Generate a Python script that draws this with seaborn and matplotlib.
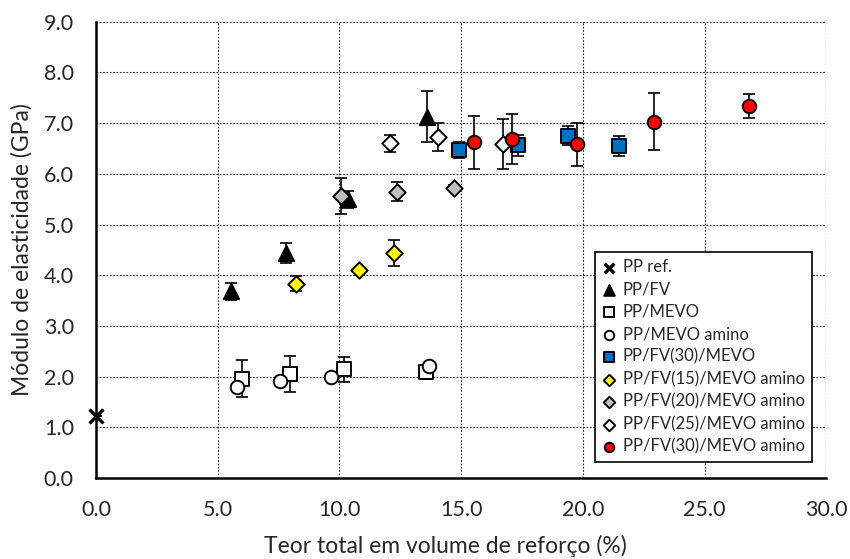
import numpy as np
import matplotlib
matplotlib.use('Agg')
import matplotlib.pyplot as plt
from matplotlib.ticker import MultipleLocator, FormatStrFormatter
import seaborn as sns

# ── Data ─────────────────────────────────────────────────────────────────────
series_names = ['PP ref.', 'PP/FV', 'PP/MEVO', 'PP/MEVO amino', 'PP/FV(30)/MEVO',
                'PP/FV(15)/MEVO amino', 'PP/FV(20)/MEVO amino',
                'PP/FV(25)/MEVO amino', 'PP/FV(30)/MEVO amino']

pp_ref_x   = [0.0]
pp_ref_y   = [1.22]
pp_ref_err = [0.0]

pp_fv_x   = [5.55, 7.81, 10.37, 13.59]
pp_fv_y   = [3.68, 4.44, 5.50, 7.13]
pp_fv_err = [0.16, 0.20, 0.17, 0.51]

pp_mevo_x   = [6.00, 7.95, 10.17, 13.55]
pp_mevo_y   = [1.96, 2.05, 2.14, 2.10]
pp_mevo_err = [0.36, 0.36, 0.25, 0.05]

pp_mevo_am_x   = [5.78, 7.56, 9.66, 13.66]
pp_mevo_am_y   = [1.79, 1.91, 1.99, 2.21]
pp_mevo_am_err = [0.05, 0.05, 0.05, 0.05]

fv30_mevo_x   = [14.92, 17.32, 19.38, 21.50]
fv30_mevo_y   = [6.47, 6.56, 6.75, 6.55]
fv30_mevo_err = [0.15, 0.20, 0.19, 0.20]

fv15_am_x   = [8.22, 10.82, 12.26]
fv15_am_y   = [3.83, 4.10, 4.44]
fv15_am_err = [0.15, 0.05, 0.26]

fv20_am_x   = [10.07, 12.38, 14.69]
fv20_am_y   = [5.56, 5.65, 5.73]
fv20_am_err = [0.36, 0.18, 0.05]

fv25_am_x   = [12.08, 14.04, 16.74]
fv25_am_y   = [6.60, 6.73, 6.59]
fv25_am_err = [0.17, 0.28, 0.50]

fv30_am_x   = [15.54, 17.08, 19.78, 22.92, 26.81]
fv30_am_y   = [6.62, 6.69, 6.58, 7.03, 7.34]
fv30_am_err = [0.52, 0.49, 0.43, 0.56, 0.23]

# ── Style per series ─────────────────────────────────────────────────────────
STYLE = [
    # marker, face colour, size
    ('x', 'black',   100),
    ('^', 'black',   120),
    ('s', 'white',    95),
    ('o', 'white',    95),
    ('s', '#0070C0',  95),
    ('D', '#FFFF00',  70),
    ('D', '#BFBFBF',  70),
    ('D', 'white',    70),
    ('o', '#FF0000',  95),
]

data = [
    (pp_ref_x, pp_ref_y, pp_ref_err),
    (pp_fv_x, pp_fv_y, pp_fv_err),
    (pp_mevo_x, pp_mevo_y, pp_mevo_err),
    (pp_mevo_am_x, pp_mevo_am_y, pp_mevo_am_err),
    (fv30_mevo_x, fv30_mevo_y, fv30_mevo_err),
    (fv15_am_x, fv15_am_y, fv15_am_err),
    (fv20_am_x, fv20_am_y, fv20_am_err),
    (fv25_am_x, fv25_am_y, fv25_am_err),
    (fv30_am_x, fv30_am_y, fv30_am_err),
]

sns.set_style('white')
plt.rcParams['font.family'] = ['Lato', 'DejaVu Sans']

fig = plt.figure(figsize=(8.5, 5.59), dpi=100)
ax = fig.add_axes([0.113, 0.145, 0.859, 0.816])

for i, (name, (xs, ys, es), (mk, fc, sz)) in enumerate(zip(series_names, data, STYLE)):
    ax.errorbar(xs, ys, yerr=es, fmt='none', ecolor='black',
                elinewidth=1.2, capsize=4.5, capthick=1.2, zorder=3 + 2 * i)
    if mk == 'x':
        sns.scatterplot(x=xs, y=ys, marker=mk, color='black', s=sz,
                        linewidth=2.4, label=name, ax=ax, zorder=4 + 2 * i,
                        clip_on=False)
    else:
        sns.scatterplot(x=xs, y=ys, marker=mk, color=fc, edgecolor='black',
                        s=sz, linewidth=1.4, label=name, ax=ax, zorder=4 + 2 * i)

# ── Axes ─────────────────────────────────────────────────────────────────────
ax.set_xlim(0, 30)
ax.set_ylim(0, 9)
ax.xaxis.set_major_locator(MultipleLocator(5))
ax.xaxis.set_minor_locator(MultipleLocator(1))
ax.yaxis.set_major_locator(MultipleLocator(1))
ax.yaxis.set_minor_locator(MultipleLocator(0.2))
ax.xaxis.set_major_formatter(FormatStrFormatter('%.1f'))
ax.yaxis.set_major_formatter(FormatStrFormatter('%.1f'))

ax.grid(True, which='major', linestyle=(0, (1.5, 1.5)), color='#222222', linewidth=0.8)
for side in ['top', 'right']:
    ax.spines[side].set_visible(False)
for side in ['left', 'bottom']:
    ax.spines[side].set_color('black')
    ax.spines[side].set_linewidth(1.8)
    ax.spines[side].set_zorder(30)

ax.tick_params(which='both', direction='in', color='black', width=1.5,
               labelsize=15.5, pad=16)
ax.tick_params(which='major', length=7)
ax.tick_params(which='minor', length=7)

ax.set_xlabel('Teor total em volume de reforço (%)', fontsize=16.5)
ax.set_ylabel('Módulo de elasticidade (GPa)', fontsize=16.5)
ax.xaxis.set_label_coords(0.479, -0.125)
ax.yaxis.set_label_coords(-0.087, 0.5)

leg = ax.legend(loc='lower right', bbox_to_anchor=(0.981, 0.035), borderaxespad=0,
                fancybox=False, framealpha=1, edgecolor='black', fontsize=12,
                markerscale=0.7, handlelength=0.8, handletextpad=0.4,
                labelspacing=0.38, borderpad=0.45)
leg.get_frame().set_linewidth(1.2)
leg.set_zorder(40)

plt.savefig('out.png', dpi=100)
